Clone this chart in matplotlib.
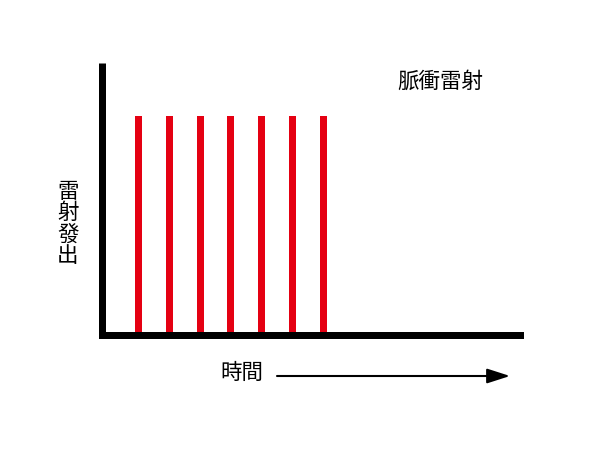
import matplotlib
matplotlib.use('Agg')
import matplotlib.pyplot as plt
from matplotlib.patches import FancyArrowPatch

plt.rcParams['font.family'] = ['Noto Sans CJK TC', 'DejaVu Sans']

# pulse data
pulse_times = [1, 2, 3, 4, 5, 6, 7]
pulse_heights = [1, 1, 1, 1, 1, 1, 1]
title = "脈衝雷射"
ylabel = "雷射發出"
xlabel = "時間"

W, H = 600, 450
fig = plt.figure(figsize=(6, 4.5), dpi=100)

# axes box in pixels: left spine x=101.5, bottom spine y=335, right 519.5 (+cap), top 63
left, right, top, bottom = 101.5, 519.5, 63, 335
ax = fig.add_axes([left / W, (H - bottom) / H, (right - left) / W, (bottom - top) / H])

step = 30.8  # pixels per pulse
x0 = 138.5 - step  # pixel position of time 0
ax.set_xlim((left - x0) / step, (right - x0) / step)
ax.set_ylim(0, (bottom - top) / (bottom - 116))

ax.bar(pulse_times, pulse_heights, width=7 / step, color='#e50012')

for s in ['top', 'right']:
    ax.spines[s].set_visible(False)
for s in ['left', 'bottom']:
    ax.spines[s].set_linewidth(7 * 72 / 100)
    ax.spines[s].set_color('black')
ax.spines['left'].set_capstyle('butt')
ax.spines['bottom'].set_capstyle('projecting')
ax.set_xticks([])
ax.set_yticks([])

fig.text(440 / W, 1 - 82 / H, title, fontsize=15.5, ha='center', va='center')
fig.text(68 / W, 1 - 224 / H, "\n".join(ylabel), fontsize=15.5,
         ha='center', va='center', linespacing=0.98)
fig.text(242 / W, 1 - 373 / H, xlabel, fontsize=15.5, ha='center', va='center')

arrow = FancyArrowPatch((277 / W, 1 - 376 / H), (510 / W, 1 - 376 / H),
                        transform=fig.transFigure,
                        arrowstyle='-|>,head_length=1.4,head_width=0.45',
                        mutation_scale=10, lw=1.5, color='black',
                        shrinkA=0, shrinkB=0)
fig.patches.append(arrow)

fig.savefig('out.png', dpi=100)
